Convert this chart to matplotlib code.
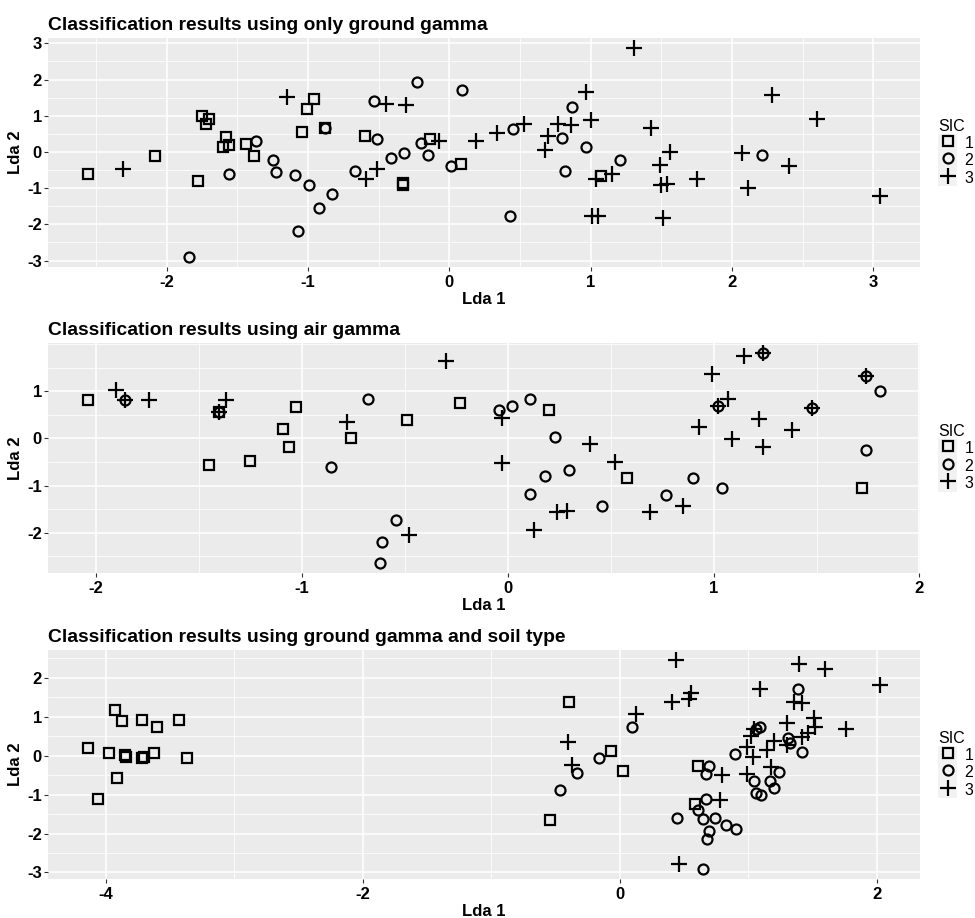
import numpy as np
import matplotlib

matplotlib.use("Agg")
import matplotlib.pyplot as plt
from matplotlib.lines import Line2D
from matplotlib.patches import Rectangle
from matplotlib.legend_handler import HandlerLine2D
from matplotlib.ticker import FixedLocator, MultipleLocator

plt.rcParams["font.family"] = ["Liberation Sans", "DejaVu Sans"]

# --- panel 1: only ground gamma ---
ground_sq_x = [-2.56, -2.08, -1.78, -1.75, -1.70, -1.72, -1.58, -1.60, -1.56, -1.44, -1.38,
               -0.96, -1.01, -1.04, -0.88, -0.60, -0.33, -0.33, -0.14, 0.08, 1.07]
ground_sq_y = [-0.60, -0.12, -0.79, 0.99, 0.91, 0.76, 0.40, 0.14, 0.18, 0.21, -0.12,
               1.45, 1.20, 0.56, 0.65, 0.43, -0.86, -0.90, 0.37, -0.34, -0.66]
ground_ci_x = [-1.84, -1.56, -1.37, -1.25, -1.23, -1.09, -1.07, -0.99, -0.92, -0.83, -0.88,
               -0.67, -0.53, -0.51, -0.41, -0.32, -0.23, -0.20, -0.15, 0.01, 0.09, 0.45,
               0.43, 0.80, 0.87, 0.97, 0.82, 1.21, 2.21]
ground_ci_y = [-2.89, -0.62, 0.31, -0.23, -0.56, -0.63, -2.18, -0.91, -1.54, -1.15, 0.65,
               -0.53, 1.41, 0.35, -0.18, -0.03, 1.92, 0.25, -0.09, -0.38, 1.71, 0.63,
               -1.78, 0.39, 1.23, 0.14, -0.53, -0.23, -0.09]
ground_pl_x = [-2.31, -1.15, -0.45, -0.31, -0.59, -0.51, -0.07, 0.19, 0.34, 0.53, 1.31,
               0.97, 1.00, 0.77, 0.86, 0.70, 0.68, 1.43, 1.56, 1.49, 1.04, 1.15, 1.50,
               1.54, 1.01, 1.05, 1.51, 1.75, 2.07, 2.28, 2.60, 2.40, 2.11, 3.05]
ground_pl_y = [-0.48, 1.53, 1.33, 1.31, -0.76, -0.46, 0.29, 0.29, 0.53, 0.76, 2.86,
               1.66, 0.88, 0.76, 0.74, 0.43, 0.05, 0.67, 0.00, -0.37, -0.75, -0.62, -0.92,
               -0.88, -1.78, -1.78, -1.82, -0.74, -0.03, 1.57, 0.92, -0.39, -0.99, -1.22]

# --- panel 2: air gamma ---
air_sq_x = [-2.04, -1.45, -1.25, -1.09, -1.06, -1.03, -0.76, -0.49, -0.23, -1.40, 0.20, 0.58, 1.72]
air_sq_y = [0.82, -0.56, -0.47, 0.21, -0.18, 0.67, 0.01, 0.38, 0.74, 0.57, 0.61, -0.84, -1.05]
air_ci_x = [-1.86, -1.40, -0.86, -0.68, -0.54, -0.61, -0.62, -0.04, 0.02, 0.11, 0.23, 0.18,
            0.30, 0.11, 0.46, 0.77, 0.90, 1.04, 1.02, 1.24, 1.48, 1.74, 1.81, 1.74]
air_ci_y = [0.81, 0.57, -0.60, 0.84, -1.72, -2.19, -2.63, 0.61, 0.69, 0.84, 0.03, -0.79,
            -0.66, -1.18, -1.43, -1.20, -0.83, -1.05, 0.68, 1.80, 0.64, 1.33, 1.00, -0.25]
air_pl_x = [-1.90, -1.86, -1.74, -1.37, -1.40, -0.78, -0.30, -0.48, -0.03, -0.03, 0.13, 0.24,
            0.29, 0.40, 0.52, 0.69, 0.85, 0.93, 0.99, 1.07, 1.02, 1.09, 1.15, 1.24, 1.22,
            1.24, 1.38, 1.48, 1.74]
air_pl_y = [1.03, 0.81, 0.82, 0.82, 0.57, 0.35, 1.65, -2.05, 0.43, -0.52, -1.94, -1.56,
            -1.54, -0.11, -0.50, -1.56, -1.43, 0.25, 1.37, 0.84, 0.68, -0.01, 1.74, 1.80, 0.41,
            -0.18, 0.17, 0.64, 1.33]

# --- panel 3: ground gamma and soil type ---
soil_sq_x = [-4.14, -3.93, -3.87, -3.72, -3.60, -3.43, -3.97, -3.85, -3.84, -3.72, -3.70,
             -3.62, -3.37, -3.91, -4.06, -0.39, -0.07, 0.03, -0.54, 0.61, 0.59]
soil_sq_y = [0.19, 1.18, 0.89, 0.91, 0.73, 0.91, 0.08, 0.02, -0.03, -0.05, -0.03,
             0.06, -0.07, -0.56, -1.10, 1.38, 0.12, -0.40, -1.64, -0.26, -1.24]
soil_ci_x = [0.10, -0.16, -0.33, -0.46, 0.45, 0.70, 0.67, 0.67, 0.61, 0.65, 0.74, 0.70,
             0.68, 0.83, 0.91, 0.65, 0.90, 1.05, 1.06, 1.10, 1.17, 1.20, 1.24, 1.09, 1.06,
             1.31, 1.33, 1.42, 1.39]
soil_ci_y = [0.75, -0.07, -0.45, -0.88, -1.59, -0.26, -0.48, -1.12, -1.40, -1.62, -1.61, -1.94,
             -2.13, -1.79, -1.87, -2.90, 0.04, -0.65, -0.97, -1.00, -0.64, -0.84, -0.41, 0.73, 0.69,
             0.45, 0.32, 0.09, 1.72]
soil_pl_x = [0.44, 0.41, 0.56, 0.54, 0.13, -0.40, -0.37, 0.80, 0.78, 0.46, 1.09, 1.40, 1.60,
             2.03, 1.76, 1.36, 1.42, 1.51, 1.52, 1.30, 1.42, 1.47, 1.02, 1.05, 0.99, 1.04,
             1.20, 1.15, 1.18, 0.99, 1.30]
soil_pl_y = [2.45, 1.39, 1.61, 1.45, 1.07, 0.36, -0.24, -0.50, -1.14, -2.79, 1.72, 2.35, 2.22,
             1.82, 0.68, 1.39, 1.35, 0.96, 0.75, 0.83, 0.49, 0.59, 0.51, 0.70, 0.23, -0.03,
             0.39, 0.16, -0.28, -0.47, 0.27]

titles = [
    "Classification results using only ground gamma",
    "Classification results using air gamma",
    "Classification results using ground gamma and soil type",
]
sic_labels = ["1", "2", "3"]

PANEL_BG = "#EBEBEB"
KEY_BG = "#F2F2F2"
MARKERS = [("s", 7.6), ("o", 7.2), ("+", 12.0)]
MEW = 1.6


class KeyWithBackground(HandlerLine2D):
    def create_artists(self, legend, orig_handle, xdescent, ydescent, width, height,
                       fontsize, trans):
        artists = super().create_artists(legend, orig_handle, xdescent, ydescent,
                                         width, height, fontsize, trans)
        bg = Rectangle((-xdescent, -ydescent), width, height, facecolor=KEY_BG,
                       edgecolor="none", transform=trans)
        return [bg] + list(artists)


def ggplot_limits(values):
    lo, hi = min(values), max(values)
    pad = 0.05 * (hi - lo)
    return lo - pad, hi + pad


def draw_panel(ax, groups, title, xticks, yticks, xminor, yminor):
    ax.set_facecolor(PANEL_BG)
    for (x, y), (marker, ms) in zip(groups, MARKERS):
        ax.plot(x, y, ls="none", marker=marker, ms=ms, mfc="none", mec="black",
                mew=MEW, zorder=3)
    all_x = [v for g in groups for v in g[0]]
    all_y = [v for g in groups for v in g[1]]
    ax.set_xlim(*ggplot_limits(all_x))
    ax.set_ylim(*ggplot_limits(all_y))

    ax.xaxis.set_major_locator(FixedLocator(xticks))
    ax.yaxis.set_major_locator(FixedLocator(yticks))
    ax.xaxis.set_minor_locator(MultipleLocator(xminor))
    ax.yaxis.set_minor_locator(MultipleLocator(yminor))
    ax.set_xticklabels([f"{t:g}" for t in xticks])
    ax.set_yticklabels([f"{t:g}" for t in yticks])
    ax.grid(which="major", color="white", lw=1.1, zorder=0)
    ax.grid(which="minor", color="white", lw=0.55, zorder=0)
    ax.set_axisbelow(True)
    for spine in ax.spines.values():
        spine.set_visible(False)
    ax.tick_params(which="major", length=3, width=0.8, color="#333333",
                   labelsize=12, labelcolor="black")
    ax.tick_params(axis="x", pad=2.5)
    ax.tick_params(axis="y", pad=1.5)
    ax.tick_params(which="minor", length=0)
    for lab in ax.get_xticklabels() + ax.get_yticklabels():
        lab.set_fontweight("bold")

    ax.set_xlabel("Lda 1", fontsize=12, fontweight="bold", labelpad=2)
    ax.set_ylabel("Lda 2", fontsize=12, fontweight="bold", labelpad=3)
    ax.set_title(title, loc="left", fontsize=13.9, fontweight="bold", pad=6)

    handles = [Line2D([], [], ls="none", marker=m, ms=s, mfc="none", mec="black", mew=MEW)
               for m, s in MARKERS]
    ax.legend(handles, sic_labels, title="SIC", loc="center left",
              bbox_to_anchor=(1 + 18 / 872, 0.5), frameon=False, borderpad=0,
              borderaxespad=0, fontsize=11.5, title_fontsize=11.5, numpoints=1,
              handlelength=1.2, handleheight=1.3, labelspacing=0, handletextpad=0.45,
              alignment="left", handler_map={Line2D: KeyWithBackground()})


fig = plt.figure(figsize=(9.75, 9.18), dpi=100)
W, H = 975, 918
left, right = 48, 920
panel_rows = [(38, 267), (343, 573), (650, 879)]
axes = [fig.add_axes([left / W, 1 - bot / H, (right - left) / W, (bot - top) / H])
        for top, bot in panel_rows]

draw_panel(axes[0],
           [(ground_sq_x, ground_sq_y), (ground_ci_x, ground_ci_y), (ground_pl_x, ground_pl_y)],
           titles[0], [-2, -1, 0, 1, 2, 3], [-3, -2, -1, 0, 1, 2, 3], 0.5, 0.5)
draw_panel(axes[1],
           [(air_sq_x, air_sq_y), (air_ci_x, air_ci_y), (air_pl_x, air_pl_y)],
           titles[1], [-2, -1, 0, 1, 2], [-2, -1, 0, 1], 0.5, 0.5)
draw_panel(axes[2],
           [(soil_sq_x, soil_sq_y), (soil_ci_x, soil_ci_y), (soil_pl_x, soil_pl_y)],
           titles[2], [-4, -2, 0, 2], [-3, -2, -1, 0, 1, 2], 1.0, 0.5)

fig.savefig("out.png", dpi=100)
